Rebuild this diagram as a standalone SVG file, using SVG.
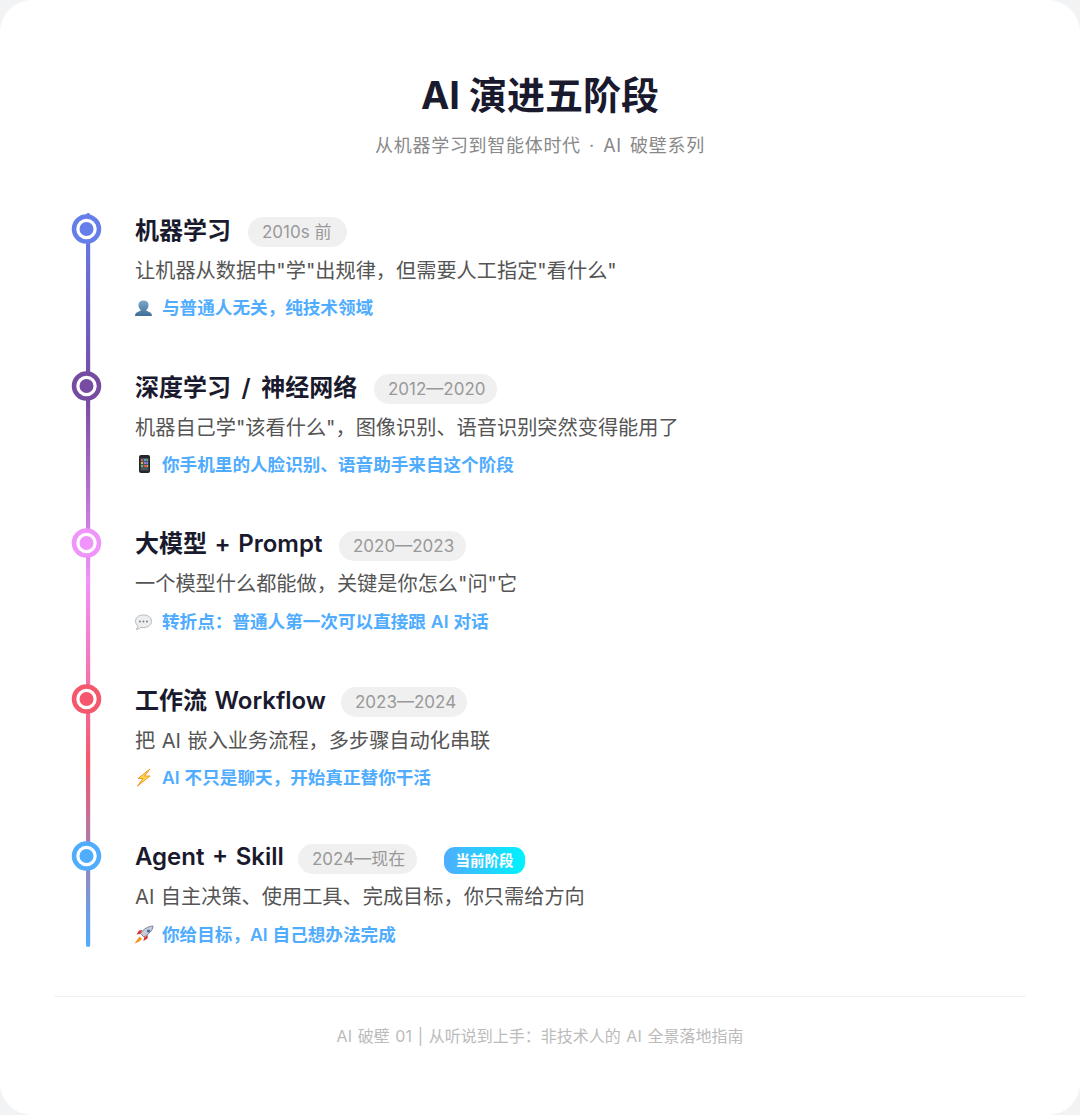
<svg xmlns="http://www.w3.org/2000/svg" width="1080" height="1115" viewBox="0 0 1080 1115">
<style>
text{font-family:"Inter","Noto Sans CJK SC",sans-serif}
.title{font-size:38px;font-weight:700;fill:#1a1a2e;text-anchor:middle}
.sub{font-size:18px;fill:#888;text-anchor:middle;letter-spacing:.7px;word-spacing:2.5px}
.h{font-size:24px;font-weight:600;fill:#1a1a2e;word-spacing:1.5px}
.p{fill:#f0f0f0}
.m{font-size:17px;fill:#999}
.d{font-size:20.2px;fill:#555;word-spacing:.8px}
.t{font-size:17.6px;font-weight:600;fill:#4facfe;word-spacing:.5px}
.foot{font-size:16px;fill:#bbb;text-anchor:middle;word-spacing:1.2px}
.ring{fill:#fff;stroke-width:4.5}
</style>
<defs>
<linearGradient id="lg" gradientUnits="userSpaceOnUse" x1="0" y1="213" x2="0" y2="947">
<stop offset="0" stop-color="#667eea"/><stop offset=".25" stop-color="#764ba2"/><stop offset=".5" stop-color="#f093fb"/><stop offset=".75" stop-color="#f5576c"/><stop offset="1" stop-color="#4facfe"/>
</linearGradient>
<linearGradient id="bg"><stop offset="0" stop-color="#4facfe"/><stop offset="1" stop-color="#00f2fe"/></linearGradient>
<linearGradient id="pg" x1="0" y1="0" x2="0" y2="1"><stop offset="0" stop-color="#7ba7c9"/><stop offset="1" stop-color="#3f6f97"/></linearGradient>
</defs>
<rect width="1080" height="1115" fill="#f2f3f5"/>
<rect width="1080" height="1115" rx="32" fill="#fff"/>
<g id="header">
<text class="title" x="540" y="109">AI 演进五阶段</text>
<text class="sub" x="540" y="152">从机器学习到智能体时代 · AI 破壁系列</text>
</g>
<g id="connectors"><rect x="86" y="213" width="4.2" height="734" rx="2.1" fill="url(#lg)"/></g>
<g id="node1">
<circle class="ring" cx="86.5" cy="229" r="12.5" stroke="#667eea"/><circle cx="86.5" cy="229" r="7" fill="#667eea"/>
<text class="h" x="135" y="239">机器学习</text>
<rect class="p" x="248" y="217" width="99" height="30" rx="15"/><text class="m" x="262" y="238">2010s 前</text>
<text class="d" x="135" y="278">让机器从数据中"学"出规律，但需要人工指定"看什么"</text>
<path d="M135 316c0-4 4-4.500 6-5.500c-2-2-2.500-3.500-2.500-5.500c0-2.800 2-4.500 5-4.500s5 1.700 5 4.500c0 2-.5 3.500-2.500 5.500c2 1 6 1.500 6 5.500z" fill="url(#pg)"/>
<text class="t" x="162" y="314">与普通人无关，纯技术领域</text>
</g>
<g id="node2">
<circle class="ring" cx="86.5" cy="386" r="12.5" stroke="#764ba2"/><circle cx="86.5" cy="386" r="7" fill="#764ba2"/>
<text class="h" x="135" y="396" word-spacing="4.5" style="word-spacing:4.5px">深度学习 / 神经网络</text>
<rect class="p" x="374" y="374" width="123" height="30" rx="15"/><text class="m" x="388" y="395">2012—2020</text>
<text class="d" x="135" y="435">机器自己学"该看什么"，图像识别、语音识别突然变得能用了</text>
<rect x="139" y="455" width="11" height="18" rx="2" fill="#23272b"/><rect x="140.500" y="458" width="8" height="12.500" fill="#4a5560"/>
<rect x="141" y="459" width="2" height="2" fill="#e0564f"/><rect x="144" y="459" width="2" height="2" fill="#4fa3e0"/><rect x="146.500" y="459" width="1.500" height="2" fill="#6cc04a"/><rect x="141" y="462" width="2" height="2" fill="#e8b23a"/><rect x="144" y="462" width="2" height="2" fill="#b565d8"/><rect x="146.500" y="462" width="1.500" height="2" fill="#4fa3e0"/><rect x="141" y="465" width="2" height="2" fill="#6cc04a"/><rect x="144" y="465" width="2" height="2" fill="#e0564f"/><rect x="146.500" y="465" width="1.500" height="2" fill="#e8b23a"/>
<text class="t" x="162" y="471">你手机里的人脸识别、语音助手来自这个阶段</text>
</g>
<g id="node3">
<circle class="ring" cx="86.5" cy="543" r="12.5" stroke="#f093fb"/><circle cx="86.5" cy="543" r="7" fill="#f093fb"/>
<text class="h" x="135" y="552">大模型 + Prompt</text>
<rect class="p" x="339" y="531" width="127" height="30" rx="15"/><text class="m" x="353" y="552">2020—2023</text>
<text class="d" x="135" y="591">一个模型什么都能做，关键是你怎么"问"它</text>
<g transform="translate(0 14)">
<path d="M143.500 613.500c5 0 8-2.700 8-6.200s-3-6.300-8-6.300s-8 2.800-8 6.300c0 2 1 3.700 2.500 4.800c-.2 1.300-.9 2.500-1.900 3.400c1.800 0 3.500-1 4.600-2z" fill="#eceef0" stroke="#b5bbc0" stroke-width="1"/>
<circle cx="140" cy="607.500" r=".9" fill="#777"/><circle cx="143.500" cy="607.500" r=".9" fill="#777"/><circle cx="147" cy="607.500" r=".9" fill="#777"/>
</g>
<text class="t" x="162" y="628">转折点：普通人第一次可以直接跟 AI 对话</text>
</g>
<g id="node4">
<circle class="ring" cx="86.5" cy="699" r="12.5" stroke="#f5576c"/><circle cx="86.5" cy="699" r="7" fill="#f5576c"/>
<text class="h" x="135" y="709">工作流 Workflow</text>
<rect class="p" x="341" y="687" width="126" height="30" rx="15"/><text class="m" x="355" y="708">2023—2024</text>
<text class="d" x="135" y="748">把 AI 嵌入业务流程，多步骤自动化串联</text>
<path d="M150 769l-12 9.500h5l-5.500 7.500l12.500-10h-5.500l5.500-7z" fill="#fdd94a" stroke="#f0982a" stroke-width="1"/>
<text class="t" x="162" y="784">AI 不只是聊天，开始真正替你干活</text>
</g>
<g id="node5">
<circle class="ring" cx="86.5" cy="856" r="12.5" stroke="#4facfe"/><circle cx="86.5" cy="856" r="7" fill="#4facfe"/>
<text class="h" x="135" y="865">Agent + Skill</text>
<rect class="p" x="298" y="844" width="119" height="30" rx="15"/><text class="m" x="312" y="865">2024—现在</text>
<rect x="444" y="847" width="81" height="27" rx="11" fill="url(#bg)"/><text x="484.500" y="866" font-size="14.500" font-weight="700" fill="#fff" text-anchor="middle">当前阶段</text>
<text class="d" x="135" y="904">AI 自主决策、使用工具、完成目标，你只需给方向</text>
<path d="M153 926c-5 .3-9.500 3-12.500 7.500l3.500 3.500c4.500-3 8.700-6 9-11z" fill="#c8ccd6" stroke="#5f6b85" stroke-width=".8"/><path d="M140 934l-3.500 .5l2.500-4 3.500-.5zM144 937.500l-.5 3.500l4-2.500 .5-3.500z" fill="#d8362a"/><path d="M139.500 936.500l2.500 2.500l-3.500 3l-4 1.500z" fill="#f7941e"/><circle cx="148.500" cy="931" r="1.600" fill="#3a6ea5"/>
<text class="t" x="162" y="941">你给目标，AI 自己想办法完成</text>
</g>
<g id="footer">
<rect x="54" y="996" width="972" height="1" fill="#f0f0f0"/>
<text class="foot" x="540" y="1042">AI 破壁 01 | 从听说到上手：非技术人的 AI 全景落地指南</text>
</g>
</svg>
